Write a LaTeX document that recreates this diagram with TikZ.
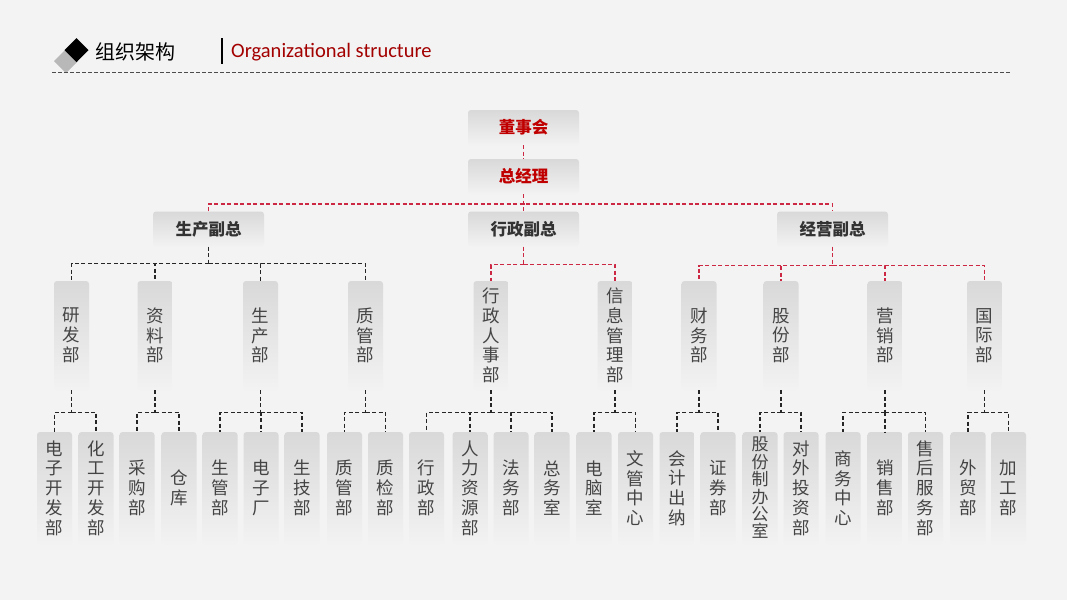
\documentclass[tikz,border=0pt]{standalone}
\usepackage{fontspec}
\setmainfont{Carlito}
\newfontfamily\cjk{Noto Sans CJK SC}
\definecolor{hongse}{HTML}{C00000}
\definecolor{xianhong}{HTML}{CC2844}
\definecolor{wenzi}{HTML}{444444}
\definecolor{beijing}{HTML}{F3F3F3}
\tikzset{
  kuang/.style={rounded corners=3pt, top color=black!15, bottom color=black!5, draw=none, align=center, inner sep=0pt},
  zongkuang/.style={kuang, minimum width=111pt, minimum height=35pt, text=black!80, font=\cjk\bfseries\fontsize{16.5}{16.5}\selectfont},
  bukuang/.style={kuang, minimum width=35pt, minimum height=109pt, text=wenzi, font=\cjk\fontsize{17.5}{19.7}\selectfont},
  xiaokuang/.style={bukuang, minimum height=112pt},
  hongxian/.style={xianhong, line width=1.2pt, dash pattern=on 4pt off 2.5pt},
  heixian/.style={black!85, line width=1.2pt, dash pattern=on 4pt off 2.5pt},
}
\begin{document}
\begin{tikzpicture}[x=1pt, y=-1pt]
    % 背景
    \fill[beijing] (0,0) rectangle (1067,600);
    \useasboundingbox (0,0) rectangle (1067,600);

    % 标题（菱形 + 文字）
    \fill[black!28] (66,49) -- (78,61) -- (66,73) -- (54,61) -- cycle;
    \fill[black] (76.5,38) -- (88.5,50) -- (76.5,62) -- (64.5,50) -- cycle;
    \node[font=\cjk\fontsize{20}{20}\selectfont, anchor=west, inner sep=0pt] (biaoti) at (95,52) {组织架构};
    \draw[line width=2.6pt] (222,38) -- (222,64);
    \node[font=\fontsize{20.5}{20.5}\selectfont, text=hongse!85!black, anchor=west, inner sep=0pt] (yingwen) at (231,52) {Organizational structure};
    \draw[black!70, line width=1pt, dash pattern=on 4pt off 2pt] (52,72) -- (1010,72);

    % 董事会、总经理
    \node[zongkuang, text=hongse] (dsh) at (523.5,127.5) {董事会};
    \node[zongkuang, text=hongse] (zjl) at (523.5,176.5) {总经理};

    % 副总
    \node[zongkuang] (scfz) at (208.5,229) {生产副总};
    \node[zongkuang] (xzfz) at (523.5,229) {行政副总};
    \node[zongkuang] (jyfz) at (832.5,229) {经营副总};

    % 部门
    \foreach \x/\t/\n in {71.5/研\\发\\部/yf, 155/资\\料\\部/zl, 260.5/生\\产\\部/sc, 365.5/质\\管\\部/zg,
                         491/行\\政\\人\\事\\部/xzrs, 615/信\\息\\管\\理\\部/xxgl,
                         699/财\\务\\部/cw, 781/股\\份\\部/gf, 885/营\\销\\部/yx, 984.5/国\\际\\部/gj}
        \node[bukuang] (\n) at (\x,335.5) {\t};

    % 下属部门
    \foreach \x/\t/\n in {54.5/电\\子\\开\\发\\部/yf1, 96/化\\工\\开\\发\\部/yf2,
                         137/采\\购\\部/zl1, 179/仓\\库/zl2,
                         220/生\\管\\部/sc1, 261/电\\子\\厂/sc2, 302/生\\技\\部/sc3,
                         344.5/质\\管\\部/zg1, 385.5/质\\检\\部/zg2,
                         426.5/行\\政\\部/xzrs1, 470/人\\力\\资\\源\\部/xzrs2, 511/法\\务\\部/xzrs3, 552/总\\务\\室/xzrs4,
                         594/电\\脑\\室/xxgl1, 635.5/文\\管\\中\\心/xxgl2,
                         677/会\\计\\出\\纳/cw1, 718/证\\券\\部/cw2,
                         801/对\\外\\投\\资\\部/gf2,
                         843/商\\务\\中\\心/yx1, 885/销\\售\\部/yx2, 925.5/售\\后\\服\\务\\部/yx3,
                         968/外\\贸\\部/gj1, 1008.5/加\\工\\部/gj2}
        \node[xiaokuang] (\n) at (\x,488) {\t};
    % 六个字的框，行距小一点
    \node[xiaokuang, font=\cjk\fontsize{17}{17.4}\selectfont] (gf1) at (760,488) {股\\份\\制\\办\\公\\室};

    % 上层连线（红色虚线）
    \draw[hongxian] (dsh.south) -- (zjl.north);
    \draw[hongxian] (zjl.south) -- (xzfz.north);
    \coordinate (zjlh) at (523.5,204);
    \draw[hongxian] (scfz.north) |- (zjlh) -| (jyfz.north);

    % 副总到部门
    \draw[heixian] (scfz.south) -- ++(0,17) coordinate (scfzh);
    \foreach \c in {yf,zl,sc,zg} \draw[heixian] (scfzh) -| (\c.north);
    \draw[hongxian] (xzfz.south) -- ++(0,18) coordinate (xzfzh);
    \foreach \c in {xzrs,xxgl} \draw[hongxian] (xzfzh) -| (\c.north);
    \draw[hongxian] (jyfz.south) -- ++(0,19) coordinate (jyfzh);
    \foreach \c in {cw,gf,yx,gj} \draw[hongxian] (jyfzh) -| (\c.north);

    % 部门到下属部门（黑色虚线）
    \foreach \p/\cs in {yf/{yf1,yf2}, zl/{zl1,zl2}, sc/{sc1,sc2,sc3}, zg/{zg1,zg2},
                        xzrs/{xzrs1,xzrs2,xzrs3,xzrs4}, xxgl/{xxgl1,xxgl2}, cw/{cw1,cw2},
                        gf/{gf1,gf2}, yx/{yx1,yx2,yx3}, gj/{gj1,gj2}} {
        \draw[heixian] (\p.south) -- ++(0,22) coordinate (\p h);
        \foreach \c in \cs \draw[heixian] (\p h) -| (\c.north);
    }
\end{tikzpicture}
\end{document}
